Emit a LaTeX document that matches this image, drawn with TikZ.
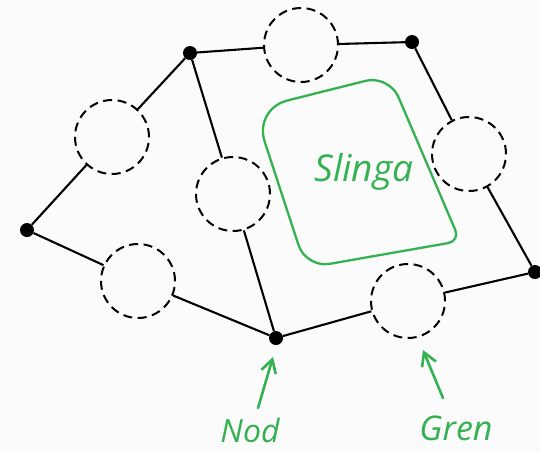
\documentclass[tikz,border=0pt]{standalone}
\usepackage{fontspec}
\setmainfont{Open Sans}
\usetikzlibrary{arrows.meta}
\definecolor{penGreen}{RGB}{52,178,82}
\tikzset{
  vertex/.style={circle,fill=black,inner sep=0pt,minimum size=14pt},
  slot/.style={circle,draw=black,line width=2pt,dash pattern=on 9pt off 5.5pt,minimum size=74pt,inner sep=0pt},
  edge/.style={draw=black,line width=2.1pt},
  pen/.style={draw=penGreen,line width=2.3pt},
  pointer/.style={pen,line width=2.6pt,line cap=round,-{Straight Barb[length=13pt,width=15pt,line width=2.6pt]}},
  caption/.style={text=penGreen,font=\itshape\fontsize{32}{32}\selectfont,inner sep=0pt},
}
\begin{document}
\begin{tikzpicture}[x=1pt,y=-1pt]
\useasboundingbox (0,0) rectangle (540,451);
\fill[white!97!gray] (0,0) rectangle (540,451);

% junctions
\node[vertex] (A) at (190,53) {};
\node[vertex] (B) at (412,42) {};
\node[vertex] (C) at (27,230) {};
\node[vertex] (D) at (276,338) {};
\node[vertex] (E) at (535,272) {};

% branch placeholders
\node[slot] (sAB) at (301,45) {};
\node[slot] (sAC) at (112,137) {};
\node[slot] (sAD) at (233,194) {};
\node[slot] (sBE) at (469,154) {};
\node[slot] (sCD) at (138,281) {};
\node[slot] (sDE) at (408,301) {};

% connections
\path[edge] (A) -- (sAB) (sAB) -- (B);
\path[edge] (A) -- (sAC) (sAC) -- (C);
\path[edge] (A) -- (sAD) (sAD) -- (D);
\path[edge] (B) -- (sBE) (sBE) -- (E);
\path[edge] (C) -- (sCD) (sCD) -- (D);
\path[edge] (D) -- (sDE) (sDE) -- (E);

% loop outline
\draw[pen] (321,92) [rounded corners=24pt] -- (389,75)
  [rounded corners=12pt] -- (460,241)
  [rounded corners=24pt] -- (306,268)
  [rounded corners=34pt] -- (254,109) -- cycle;
\node[caption,font=\itshape\fontsize{37}{37}\selectfont] (loop) at (364,172) {Slinga};

% labels with pointers
\node[caption] (nod) at (250,430) {Nod};
\node[caption,font=\itshape\fontsize{34}{34}\selectfont] (gren) at (456,428) {Gren};
\coordinate (nodTail) at (258,408);
\coordinate (nodTip) at (273,357);
\coordinate (grenTail) at (443,398);
\coordinate (grenTip) at (423,350);
\draw[pointer] (nodTail) -- (nodTip);
\draw[pointer] (grenTail) -- (grenTip);
\end{tikzpicture}
\end{document}
